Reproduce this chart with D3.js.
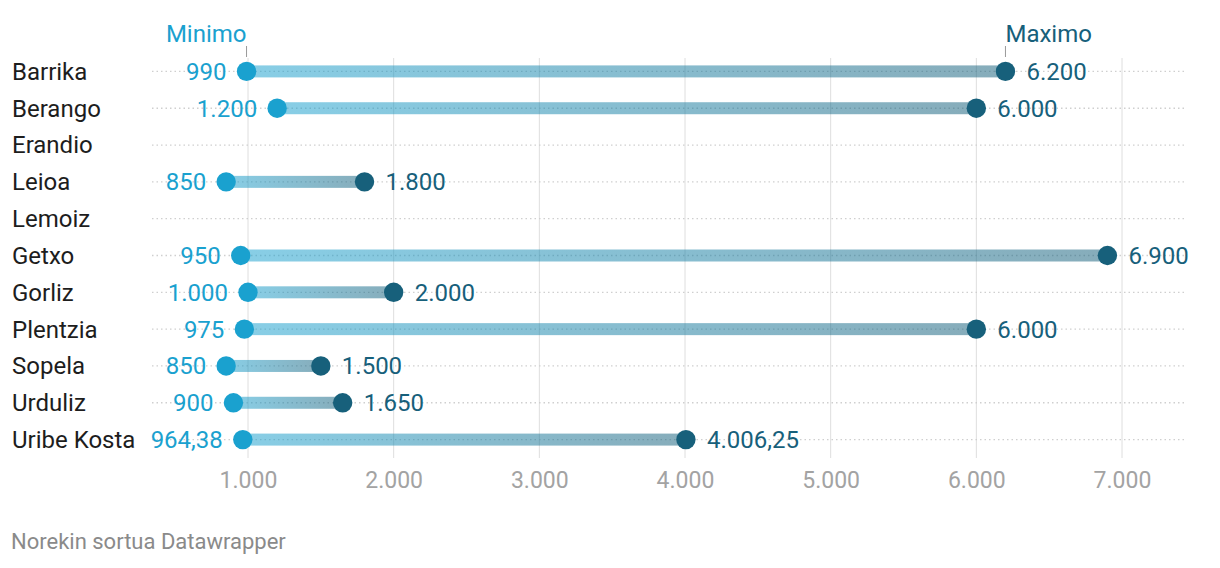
<!DOCTYPE html>
<html>
<head>
<meta charset="utf-8">
<script src="https://cdn.jsdelivr.net/npm/d3@7"></script>
<style>
  body { margin: 0; background: #fff; font-family: Roboto, sans-serif; }
</style>
</head>
<body>
<script>
// datuak
const towns = ["Barrika", "Berango", "Erandio", "Leioa", "Lemoiz", "Getxo", "Gorliz", "Plentzia", "Sopela", "Urduliz", "Uribe Kosta"]
const minValues = [990, 1200, null, 850, null, 950, 1000, 975, 850, 900, 964.38]
const maxValues = [6200, 6000, null, 1800, null, 6900, 2000, 6000, 1500, 1650, 4006.25]
const xTicks = [1000, 2000, 3000, 4000, 5000, 6000, 7000]

const width = 1220
const height = 568
const minColor = "#1aa1cf"
const maxColor = "#17607b"

const data = towns.map((name, i) => ({ name, min: minValues[i], max: maxValues[i] }))

const fmt = v => {
    let s = d3.format(",.2~f")(v)
    return s.replace(/,/g, "#").replace(".", ",").replace(/#/g, ".")
}

const x = d3.scaleLinear()
    .domain([1000, 7000])
    .range([248, 1122])

const y = d3.scaleBand()
    .domain(towns)
    .range([53, 458])

const svg = d3.select("body").append("svg")
    .attr("width", width)
    .attr("height", height)
    .style("font-family", "Roboto, sans-serif")

const defs = svg.append("defs")
const grad = defs.append("linearGradient")
    .attr("id", "barGrad")
    .attr("x1", "0%").attr("x2", "100%")
grad.append("stop").attr("offset", "0%").attr("stop-color", minColor)
grad.append("stop").attr("offset", "100%").attr("stop-color", maxColor)

// grid
svg.append("g")
    .selectAll("line")
    .data(xTicks)
    .join("line")
    .attr("x1", d => x(d)).attr("x2", d => x(d))
    .attr("y1", 58).attr("y2", 458)
    .attr("stroke", "#dedede")
    .attr("stroke-width", 1)

// axis
const xAxis = g => g
    .attr("transform", `translate(0,472)`)
    .call(d3.axisBottom(x).tickValues(xTicks).tickSize(0).tickFormat(fmt))
    .call(g => g.select(".domain").remove())
    .call(g => g.selectAll("text")
        .attr("fill", "#a3a3a3")
        .attr("font-size", 23)
        .attr("font-family", "Roboto, sans-serif")
        .attr("y", 0)
        .attr("dy", "0.71em"))
svg.append("g").call(xAxis)

const cy = d => y(d.name) + y.bandwidth() / 2

// dotted row lines
svg.append("g")
    .selectAll("line")
    .data(data)
    .join("line")
    .attr("x1", 152).attr("x2", 1187)
    .attr("y1", cy).attr("y2", cy)
    .attr("stroke", "#cfcfcf")
    .attr("stroke-width", 1.3)
    .attr("stroke-dasharray", "1.5,3")

// row labels
svg.append("g")
    .selectAll("text")
    .data(data)
    .join("text")
    .attr("x", 12)
    .attr("y", cy)
    .attr("dy", "0.35em")
    .attr("font-size", 24)
    .attr("fill", "#1d1d1d")
    .text(d => d.name)

const valid = data.filter(d => d.min != null)

// bars
svg.append("g")
    .selectAll("rect")
    .data(valid)
    .join("rect")
    .attr("x", d => x(d.min))
    .attr("y", d => cy(d) - 6)
    .attr("width", d => x(d.max) - x(d.min))
    .attr("height", 12)
    .attr("fill", "url(#barGrad)")
    .attr("opacity", 0.52)

// dots
svg.append("g")
    .selectAll("circle")
    .data(valid)
    .join("circle")
    .attr("cx", d => x(d.min)).attr("cy", cy)
    .attr("r", 9.7)
    .attr("fill", minColor)
svg.append("g")
    .selectAll("circle")
    .data(valid)
    .join("circle")
    .attr("cx", d => x(d.max)).attr("cy", cy)
    .attr("r", 9.7)
    .attr("fill", maxColor)

// value labels
svg.append("g")
    .selectAll("text")
    .data(valid)
    .join("text")
    .attr("x", d => x(d.min) - 20)
    .attr("y", cy)
    .attr("dy", "0.35em")
    .attr("text-anchor", "end")
    .attr("font-size", 24)
    .attr("fill", minColor)
    .text(d => fmt(d.min))
svg.append("g")
    .selectAll("text")
    .data(valid)
    .join("text")
    .attr("x", d => x(d.max) + 21)
    .attr("y", cy)
    .attr("dy", "0.35em")
    .attr("font-size", 24)
    .attr("fill", maxColor)
    .text(d => fmt(d.max))

// Minimo / Maximo headers
const first = data[0]
const heads = [
    { label: "Minimo", v: first.min, c: minColor, anchor: "end" },
    { label: "Maximo", v: first.max, c: maxColor, anchor: "start" }
]
svg.append("g")
    .selectAll("line")
    .data(heads)
    .join("line")
    .attr("x1", d => x(d.v)).attr("x2", d => x(d.v))
    .attr("y1", 46).attr("y2", 57)
    .attr("stroke", "#999")
    .attr("stroke-width", 1)
svg.append("g")
    .selectAll("text")
    .data(heads)
    .join("text")
    .attr("x", d => x(d.v))
    .attr("y", 42)
    .attr("text-anchor", d => d.anchor)
    .attr("font-size", 24)
    .attr("fill", d => d.c)
    .text(d => d.label)

// footer
svg.append("text")
    .attr("x", 11)
    .attr("y", 549)
    .attr("font-size", 22)
    .attr("fill", "#8a8a8a")
    .text("Norekin sortua Datawrapper")
</script>
</body>
</html>
